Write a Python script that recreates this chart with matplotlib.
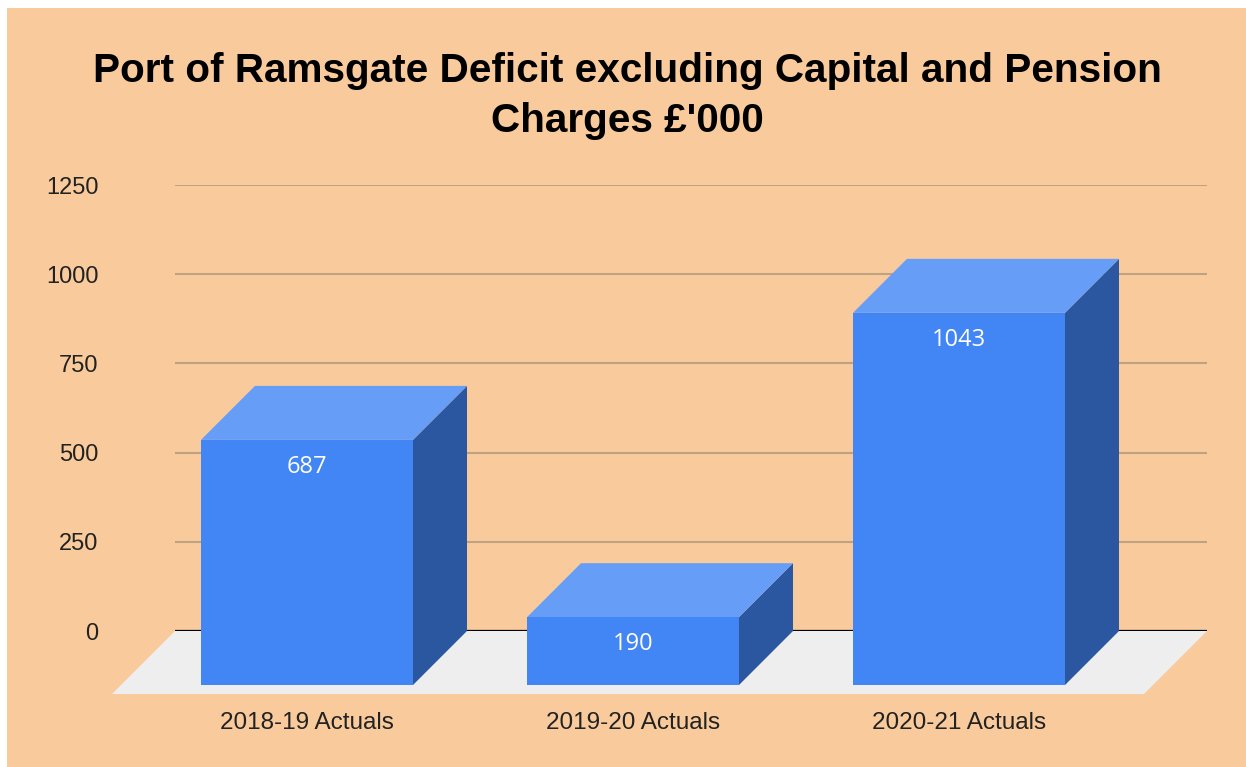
import numpy as np
import matplotlib.pyplot as plt
from matplotlib.patches import Polygon, Rectangle

categories = ['2018-19 Actuals', '2019-20 Actuals', '2020-21 Actuals']
values = [687, 190, 1043]
yticks = [0, 250, 500, 750, 1000, 1250]

W, H = 1246, 767
fig = plt.figure(figsize=(W / 100, H / 100), dpi=100)
fig.patch.set_facecolor('white')
fig.patches.append(Rectangle((7 / W, 0), 1 - 7 / W, 1 - 8 / H, transform=fig.transFigure,
                             facecolor='#F9CB9C', edgecolor='none', zorder=-10))

# plot area (back plane) in pixels
left, right, top, bottom = 175, 1207, 185, 631
ax = fig.add_axes([left / W, 1 - bottom / H, (right - left) / W, (bottom - top) / H])
ax.set_facecolor('none')

px_y = 1250 / (bottom - top)   # value units per pixel
px_x = 1 / 326.0               # category units per pixel
x0 = 307                        # pixel of first front centre
ax.set_xlim((left - x0) * px_x, (right - x0) * px_x)
ax.set_ylim(0, 1250)

bar_w = 212 * px_x
bd_x, bd_y = 54 * px_x, 54 * px_y      # bar depth
fd_x, fd_y = 63 * px_x, 63 * px_y      # floor depth

# floor
xl, xr = ax.get_xlim()
floor = Polygon([(xl, 0), (xr, 0), (xr - fd_x, -fd_y), (xl - fd_x, -fd_y)],
                closed=True, facecolor='#EEEEEE', edgecolor='none', clip_on=False, zorder=1)
ax.add_patch(floor)

ax.set_yticks(yticks)
ax.yaxis.grid(True, color='#BFA282', linewidth=1.5, zorder=2)
ax.set_axisbelow(True)
ax.axhline(0, color='black', linewidth=1.6, zorder=2.5)

for i, v in enumerate(values):
    a = i - bar_w / 2
    b = i + bar_w / 2
    front = Polygon([(a, -bd_y), (b, -bd_y), (b, v - bd_y), (a, v - bd_y)],
                    facecolor='#4285F4', edgecolor='none', clip_on=False, zorder=5)
    side = Polygon([(b, -bd_y), (b + bd_x, 0), (b + bd_x, v), (b, v - bd_y)],
                   facecolor='#2B56A0', edgecolor='none', clip_on=False, zorder=4)
    topf = Polygon([(a, v - bd_y), (a + bd_x, v), (b + bd_x, v), (b, v - bd_y)],
                   facecolor='#669DF6', edgecolor='none', clip_on=False, zorder=4)
    for p in (side, topf, front):
        ax.add_patch(p)
    ax.text(i, v - bd_y - 27 * px_y, str(v), ha='center', va='center', color='white',
            fontsize=17, family='Open Sans', zorder=6)

for s in ax.spines.values():
    s.set_visible(False)
ax.tick_params(axis='both', length=0)
ax.set_xticks(range(len(categories)))
ax.set_xticklabels(categories, fontsize=17.5, family='Liberation Sans', color='#222222')
ax.tick_params(axis='x', pad=58)
ax.set_yticklabels([str(t) for t in yticks], fontsize=17, family='Liberation Sans', color='#222222')
ax.tick_params(axis='y', pad=55)

fig.text(627 / W, 1 - 96 / H, "Port of Ramsgate Deficit excluding Capital and Pension\nCharges £'000",
         ha='center', va='center', fontsize=29.2, fontweight='bold', family='Liberation Sans',
         linespacing=1.38)

fig.savefig('out.png', dpi=100, facecolor=fig.get_facecolor())
